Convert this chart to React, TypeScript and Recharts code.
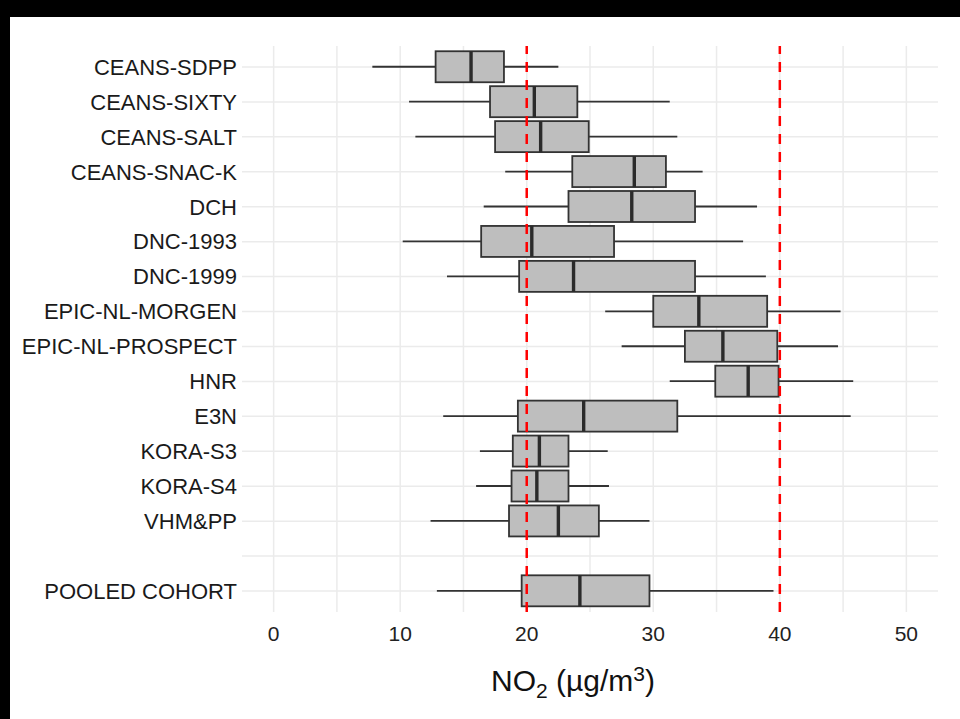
import React from 'react'
import { ComposedChart, Bar, XAxis, YAxis, CartesianGrid, ReferenceLine } from 'recharts'

// cohorts top to bottom, ' ' is the empty spacer row before the pooled one
const cohorts = [
  'CEANS-SDPP',
  'CEANS-SIXTY',
  'CEANS-SALT',
  'CEANS-SNAC-K',
  'DCH',
  'DNC-1993',
  'DNC-1999',
  'EPIC-NL-MORGEN',
  'EPIC-NL-PROSPECT',
  'HNR',
  'E3N',
  'KORA-S3',
  'KORA-S4',
  'VHM&PP',
  ' ',
  'POOLED COHORT',
]

// NO2 box plot stats per cohort (µg/m3)
const whiskerLow = [7.8, 10.7, 11.2, 18.3, 16.6, 10.2, 13.7, 26.2, 27.5, 31.3, 13.4, 16.3, 16.0, 12.4, null, 12.9]
const q1 = [12.8, 17.1, 17.5, 23.6, 23.3, 16.4, 19.4, 30.0, 32.5, 34.9, 19.3, 18.9, 18.8, 18.6, null, 19.6]
const median = [15.6, 20.6, 21.1, 28.5, 28.3, 20.4, 23.7, 33.6, 35.5, 37.5, 24.5, 21.0, 20.8, 22.5, null, 24.2]
const q3 = [18.2, 24.0, 24.9, 31.0, 33.3, 26.9, 33.3, 39.0, 39.8, 39.9, 31.9, 23.3, 23.3, 25.7, null, 29.7]
const whiskerHigh = [22.5, 31.3, 31.9, 33.9, 38.2, 37.1, 38.9, 44.8, 44.6, 45.8, 45.6, 26.4, 26.5, 29.7, null, 39.5]

const xTicks = [0, 5, 10, 15, 20, 25, 30, 35, 40, 45, 50]
const limitLines = [20, 40]
const X_DOMAIN = [-2.5, 52.5]
const Y_PAD = 3.5

const data = cohorts.map((name, i) => ({
  name,
  low: whiskerLow[i],
  q1: q1[i],
  median: median[i],
  q3: q3[i],
  high: whiskerHigh[i],
  range: whiskerLow[i] == null ? null : [whiskerLow[i], whiskerHigh[i]],
}))

const FONT = '"Liberation Sans", Arial, Helvetica, sans-serif'

// the bar spans low..high, the box parts are placed along the same scale
function BoxShape(props: any) {
  const { x, y, width, height, payload } = props
  if (!payload || payload.low == null || !width) return null
  const span = payload.high - payload.low
  const px = (v: number) => x + ((v - payload.low) / span) * width
  const cy = y + height / 2
  return (
    <g>
      <line x1={px(payload.low)} x2={px(payload.q1)} y1={cy} y2={cy} stroke="#333" strokeWidth={1.8} />
      <line x1={px(payload.q3)} x2={px(payload.high)} y1={cy} y2={cy} stroke="#333" strokeWidth={1.8} />
      <rect
        x={px(payload.q1)}
        y={y}
        width={px(payload.q3) - px(payload.q1)}
        height={height}
        fill="#BEBEBE"
        stroke="#333"
        strokeWidth={1.8}
      />
      <line x1={px(payload.median)} x2={px(payload.median)} y1={y} y2={y + height} stroke="#2b2b2b" strokeWidth={3.4} />
    </g>
  )
}

function AxisTitle(props: any) {
  const vb = props.viewBox || { x: 0, y: 0, width: 0 }
  const cx = vb.x + vb.width / 2 - 17
  const cy = vb.y + 79
  return (
    <text x={cx} y={cy} textAnchor="middle" fontSize={30} fill="#111" fontFamily={FONT}>
      NO
      <tspan fontSize={21} dy={7}>2</tspan>
      <tspan dy={-7}> (µg/m</tspan>
      <tspan fontSize={21} dy={-10}>3</tspan>
      <tspan dy={10}>)</tspan>
    </text>
  )
}

// grid only at the breaks, no lines at the panel edges
const verticalGrid = ({ xAxis, offset }: any) => {
  if (xAxis && typeof xAxis.scale === 'function') {
    const pts = xTicks.map((t) => xAxis.scale(t))
    if (pts.every((p) => Number.isFinite(p))) return pts
  }
  return xTicks.map((t) => offset.left + ((t - X_DOMAIN[0]) / (X_DOMAIN[1] - X_DOMAIN[0])) * offset.width)
}

const horizontalGrid = ({ yAxis, offset }: any) => {
  if (yAxis && typeof yAxis.scale === 'function') {
    const bw = typeof yAxis.scale.bandwidth === 'function' ? yAxis.scale.bandwidth() : 0
    const pts = cohorts.map((c) => yAxis.scale(c) + bw / 2)
    if (pts.every((p) => Number.isFinite(p))) return pts
  }
  const band = (offset.height - 2 * Y_PAD) / cohorts.length
  return cohorts.map((_, i) => offset.top + Y_PAD + (i + 0.5) * band)
}

export default function App() {
  return (
    <div style={{ position: 'absolute', left: 0, top: 0, width: 960, height: 719, background: '#000', fontFamily: FONT }}>
      <div style={{ position: 'absolute', left: 10, top: 17, width: 950, height: 702, background: '#fff' }}>
        <ComposedChart
          width={950}
          height={702}
          layout="vertical"
          data={data}
          margin={{ top: 29, right: 22, bottom: 0, left: 0 }}
          barCategoryGap="5%"
        >
          <CartesianGrid
            stroke="#EBEBEB"
            strokeWidth={1.5}
            verticalCoordinatesGenerator={verticalGrid}
            horizontalCoordinatesGenerator={horizontalGrid}
          />
          <XAxis
            type="number"
            domain={X_DOMAIN}
            ticks={xTicks}
            tickFormatter={(v: number) => (v % 10 === 0 ? String(v) : '')}
            axisLine={false}
            tickLine={false}
            tickSize={6}
            tickMargin={8}
            height={107}
            tick={{ fill: '#222', fontSize: 21, fontFamily: FONT }}
            label={<AxisTitle />}
          />
          <YAxis
            type="category"
            dataKey="name"
            width={232}
            interval={0}
            axisLine={false}
            tickLine={false}
            tickSize={3}
            tickMargin={2}
            padding={{ top: Y_PAD, bottom: Y_PAD }}
            tick={{ fill: '#1a1a1a', fontSize: 22, fontFamily: FONT }}
          />
          <Bar dataKey="range" shape={<BoxShape />} isAnimationActive={false} />
          {limitLines.map((v) => (
            <ReferenceLine key={v} x={v} stroke="#FF0000" strokeWidth={2.5} strokeDasharray="10 8" />
          ))}
        </ComposedChart>
      </div>
    </div>
  )
}
